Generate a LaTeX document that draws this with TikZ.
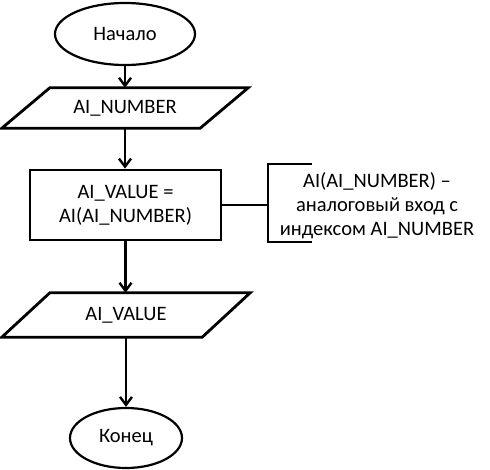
\documentclass[tikz,border=0pt]{standalone}
\usepackage{fontspec}
\setmainfont{Carlito}
\usetikzlibrary{arrows.meta,shapes.geometric,calc}
\begin{document}
\begin{tikzpicture}[x=1pt,y=-1pt,
  every node/.style={font=\fontsize{20.5}{24}\selectfont},
  termbox/.style={ellipse,draw,line width=2.2pt,inner sep=0pt},
  iohold/.style={draw=none,inner sep=0pt},
  procbox/.style={rectangle,draw,line width=2.8pt,inner sep=0pt,align=center},
  flow/.style={line width=2.8pt,-{Straight Barb[length=8pt,width=12pt,line width=2.4pt]}},
  ioline/.style={line width=2.8pt,line join=miter},
  noteline/.style={line width=1.3pt}
]
\useasboundingbox (0,0) rectangle (490,470);
\node[termbox,minimum width=140pt,minimum height=62pt] (start) at (125,34) {Начало};
\node[iohold,minimum width=246pt,minimum height=40pt] (in1) at (125,108) {AI\_NUMBER};
\draw[ioline] ([xshift=48pt]in1.north west) -- (in1.north east) -- ([xshift=-48pt]in1.south east) -- (in1.south west) -- cycle;
\node[procbox,minimum width=191pt,minimum height=70pt] (calc) at (125.5,205) {AI\_VALUE =\\AI(AI\_NUMBER)};
\node[iohold,minimum width=248pt,minimum height=44pt] (out1) at (126,315) {AI\_VALUE};
\draw[ioline] ([xshift=48pt]out1.north west) -- (out1.north east) -- ([xshift=-48pt]out1.south east) -- (out1.south west) -- cycle;
\node[termbox,minimum width=112pt,minimum height=60pt] (stop) at (126,438) {Конец};
\draw[flow] (start.south) -- (start.south |- in1.north);
\draw[flow] (in1.south) -- (in1.south |- calc.north);
\draw[flow] (calc.south) -- (calc.south |- out1.north);
\draw[flow] (out1.south) -- (out1.south |- stop.north);
\coordinate (br) at (268,205);
\draw[noteline] (calc.east) -- (br);
\draw[noteline] (312,164) -- (268,164) -- (268,242) -- (312,242);
\node[align=center,inner sep=0pt] (note) at (377,206) {AI(AI\_NUMBER)~–\\аналоговый вход с\\индексом AI\_NUMBER};
\end{tikzpicture}
\end{document}
